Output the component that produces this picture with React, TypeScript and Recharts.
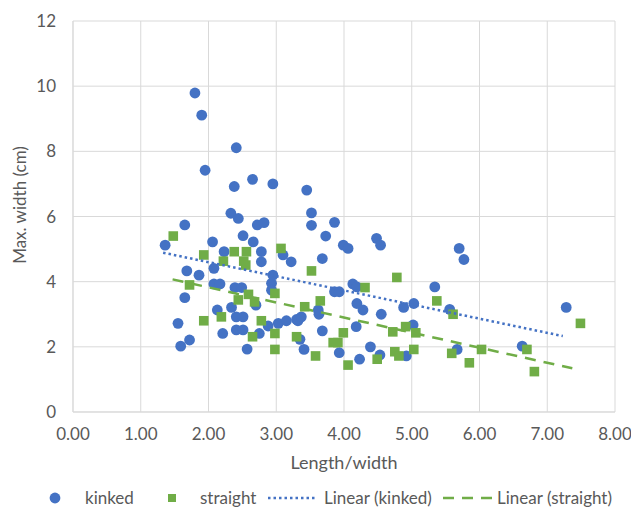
import { ScatterChart, Scatter, XAxis, YAxis, CartesianGrid, Legend } from 'recharts';

// [length/width, max width cm]
const kinked: [number, number][] = [
  [1.36, 5.12], [1.55, 2.72], [1.59, 2.02], [1.65, 5.74], [1.65, 3.51], [1.68, 4.33],
  [1.72, 2.21], [1.8, 9.79], [1.86, 4.2], [1.9, 9.11], [1.95, 7.42], [2.06, 5.22],
  [2.08, 4.41], [2.08, 3.93], [2.13, 3.13], [2.17, 3.93], [2.21, 2.41], [2.23, 4.92],
  [2.33, 6.1], [2.34, 3.21], [2.38, 6.92], [2.39, 3.82], [2.41, 8.11], [2.41, 2.92],
  [2.41, 2.52], [2.44, 5.94], [2.49, 3.82], [2.51, 5.41], [2.51, 2.92], [2.51, 2.52],
  [2.57, 1.93], [2.65, 7.14], [2.66, 5.22], [2.7, 3.28], [2.72, 5.74], [2.75, 2.41],
  [2.78, 4.92], [2.78, 4.61], [2.82, 5.81], [2.88, 2.64], [2.93, 3.95], [2.93, 3.74],
  [2.95, 7.0], [2.95, 4.2], [3.03, 2.72], [3.1, 4.82], [3.15, 2.8], [3.22, 4.61],
  [3.3, 2.84], [3.32, 2.8], [3.35, 2.23], [3.37, 2.92], [3.41, 1.92], [3.45, 6.81],
  [3.52, 6.11], [3.52, 5.73], [3.62, 3.13], [3.63, 3.0], [3.68, 4.71], [3.68, 2.49],
  [3.73, 5.4], [3.86, 5.82], [3.86, 3.69], [3.93, 3.69], [3.93, 1.82], [3.99, 5.12],
  [4.06, 5.02], [4.13, 3.93], [4.18, 2.62], [4.19, 3.84], [4.19, 3.33], [4.23, 1.62],
  [4.28, 3.13], [4.39, 2.0], [4.48, 5.33], [4.53, 1.75], [4.54, 5.12], [4.55, 3.0],
  [4.88, 3.21], [4.92, 1.72], [5.02, 2.67], [5.03, 3.33], [5.34, 3.84], [5.56, 3.15],
  [5.67, 1.92], [5.7, 5.02], [5.77, 4.68], [6.63, 2.02], [7.28, 3.21],
];

const straight: [number, number][] = [
  [1.48, 5.4], [1.72, 3.9], [1.93, 4.82], [1.93, 2.8], [2.19, 2.92], [2.22, 4.63],
  [2.38, 4.92], [2.44, 3.44], [2.52, 4.63], [2.55, 4.51], [2.56, 4.92], [2.59, 3.61],
  [2.65, 2.31], [2.68, 3.38], [2.78, 2.8], [2.98, 3.64], [2.98, 2.41], [2.98, 1.92],
  [3.07, 5.02], [3.3, 2.31], [3.42, 3.23], [3.52, 4.33], [3.58, 1.72], [3.65, 3.41],
  [3.84, 2.13], [3.91, 2.13], [3.99, 2.43], [4.06, 1.44], [4.31, 3.82], [4.49, 1.62],
  [4.72, 2.46], [4.75, 1.85], [4.78, 4.13], [4.81, 1.72], [4.91, 2.62], [5.03, 1.92],
  [5.06, 2.43], [5.37, 3.41], [5.59, 1.8], [5.61, 3.0], [5.85, 1.51], [6.03, 1.92],
  [6.7, 1.92], [6.81, 1.24], [7.49, 2.72],
];

// trendline end points
const trendKinked: [number, number][] = [[1.33, 4.89], [7.23, 2.33]];
const trendStraight: [number, number][] = [[1.47, 4.07], [7.37, 1.34]];

const xTicks = [0, 1, 2, 3, 4, 5, 6, 7, 8];
const yTicks = [0, 2, 4, 6, 8, 10, 12];

const BLUE = '#4472C4';
const GREEN = '#70AD47';
const TEXT = '#595959';
const FONT = "Lato, 'Open Sans', sans-serif";

const toPts = (arr: [number, number][]) => arr.map(([x, y]) => ({ x, y }));

const Dot = (p: any) => <circle cx={p.cx} cy={p.cy} r={5.4} fill={BLUE} />;
const Sq = (p: any) => <rect x={p.cx - 4.8} y={p.cy - 4.8} width={9.6} height={9.6} fill={GREEN} />;
const Nothing = () => <g />;

const YTitle = () => (
  <text
    x={19}
    y={205}
    transform="rotate(-90 19 205)"
    textAnchor="middle"
    dominantBaseline="central"
    fill={TEXT}
    fontSize={17}
    fontFamily={FONT}
  >
    Max. width (cm)
  </text>
);

function LegendRow() {
  const txt = { fontSize: 17, fill: TEXT, fontFamily: FONT };
  return (
    <svg width={631} height={26} style={{ display: 'block' }}>
      <circle cx={55} cy={16} r={5.4} fill={BLUE} />
      <text x={85} y={22} style={txt}>kinked</text>
      <rect x={168} y={12} width={8} height={8} fill={GREEN} />
      <text x={200} y={22} style={txt}>straight</text>
      <line x1={268} y1={16} x2={316} y2={16} stroke={BLUE} strokeWidth={2.5} strokeDasharray="2.5 3" />
      <text x={324} y={22} style={txt}>Linear (kinked)</text>
      <line x1={443} y1={16} x2={492} y2={16} stroke={GREEN} strokeWidth={2.5} strokeDasharray="11 8" />
      <text x={497} y={22} style={txt}>Linear (straight)</text>
    </svg>
  );
}

export default function App() {
  return (
    <div style={{ position: 'absolute', left: 0, top: 0, width: 631, height: 508, background: '#fff' }}>
      <ScatterChart width={631} height={508} margin={{ top: 21, right: 16, left: 0, bottom: 0 }}>
        <CartesianGrid stroke="#D9D9D9" />
        <XAxis
          type="number"
          dataKey="x"
          domain={[0, 8]}
          ticks={xTicks}
          tickFormatter={(v: number) => v.toFixed(2)}
          tick={{ fill: TEXT, fontSize: 17, fontFamily: FONT }}
          tickLine={false}
          axisLine={{ stroke: '#D9D9D9' }}
          tickSize={0}
          tickMargin={16}
          height={70}
          label={{ value: 'Length/width', position: 'insideBottom', offset: 13, fill: TEXT, fontSize: 18, fontFamily: FONT }}
        />
        <YAxis
          type="number"
          dataKey="y"
          domain={[0, 12]}
          ticks={yTicks}
          tick={{ fill: TEXT, fontSize: 17, fontFamily: FONT }}
          tickLine={false}
          axisLine={{ stroke: '#D9D9D9' }}
          tickSize={0}
          tickMargin={17}
          width={73}
          label={{ content: () => <YTitle /> }}
        />
        <Legend verticalAlign="bottom" height={26} content={() => <LegendRow />} />
        <Scatter name="kinked" data={toPts(kinked)} shape={Dot} isAnimationActive={false} />
        <Scatter name="straight" data={toPts(straight)} shape={Sq} isAnimationActive={false} />
        <Scatter
          name="Linear (kinked)"
          data={toPts(trendKinked)}
          line={{ stroke: BLUE, strokeWidth: 2.5, strokeDasharray: '2.5 3' }}
          shape={Nothing}
          isAnimationActive={false}
        />
        <Scatter
          name="Linear (straight)"
          data={toPts(trendStraight)}
          line={{ stroke: GREEN, strokeWidth: 2.5, strokeDasharray: '11 8' }}
          shape={Nothing}
          isAnimationActive={false}
        />
      </ScatterChart>
    </div>
  );
}
